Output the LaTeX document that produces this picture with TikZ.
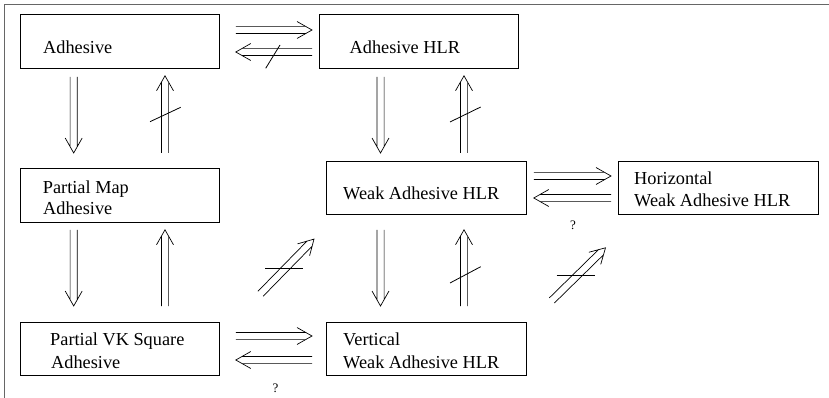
\documentclass[tikz,border=0pt]{standalone}
\usepackage{fontspec}
\setmainfont{Liberation Serif}
\usetikzlibrary{calc}
\begin{document}
\begin{tikzpicture}[x=1pt,y=-1pt,
  box/.style={draw=black, line width=0.8pt, minimum width=199pt, minimum height=54pt, anchor=north west, inner sep=0pt},
  lbl/.style={anchor=base west, inner sep=0pt, font=\fontsize{18.3}{22}\selectfont},
  qlbl/.style={inner sep=0pt, font=\fontsize{13}{15}\selectfont},
  dbl/.style 2 args={line width=0.7pt, line join=miter, to path={
    ($(\tikztostart)!#1!(\tikztotarget)$) coordinate (ds)
    ($(\tikztotarget)!#2!(\tikztostart)$) coordinate (dt)
    ($(dt)!6pt!(ds)$) coordinate (dm)
    ($(ds)!3.6pt!90:(dt)$) -- ($(dm)!3.6pt!-90:(ds)$)
    ($(ds)!3.6pt!-90:(dt)$) -- ($(dm)!3.6pt!90:(ds)$)
    ($(dt)!17.2pt!29.5:(ds)$) -- (dt) -- ($(dt)!17.2pt!-29.5:(ds)$)
  }},
  slash/.style={line width=0.8pt},
  frame/.style={draw=black!60, line width=1.5pt}]
\useasboundingbox (0,0) rectangle (829,398);
\draw[frame] (4.5,398) -- (4.5,4.5) -- (829,4.5);
% boxes
\node[box] (A) at (20,14) {};
\node[box] (AH) at (319,14) {};
\node[box] (PM) at (20,168) {};
\node[box, minimum width=200pt, minimum height=53pt] (WAH) at (326,161) {};
\node[box, minimum width=200pt, minimum height=53pt] (H) at (618,161) {};
\node[box, minimum height=53pt] (PVK) at (20,322) {};
\node[box, minimum width=200pt, minimum height=53pt] (V) at (326,322) {};
% texts
\node[lbl] (tA) at (43,53.3) {Adhesive};
\node[lbl] (tAH) at (349.5,53.3) {Adhesive HLR};
\node[lbl] (tPM1) at (42.7,193.3) {Partial Map};
\node[lbl] (tPM2) at (43,214) {Adhesive};
\node[lbl] (tWAH) at (343,199.5) {Weak Adhesive HLR};
\node[lbl] (tH1) at (634,185) {Horizontal};
\node[lbl] (tH2) at (634,206.7) {Weak Adhesive HLR};
\node[lbl] (tPVK1) at (50,345) {Partial VK Square};
\node[lbl] (tPVK2) at (51,368) {Adhesive};
\node[lbl] (tV1) at (343,345) {Vertical};
\node[lbl] (tV2) at (343,368) {Weak Adhesive HLR};
\node[qlbl] (q1) at (573,225) {?};
\node[qlbl] (q2) at (275.5,388) {?};
% columns and rows
\coordinate (c1) at (73.7,0);
\coordinate (c2) at (165,0);
\coordinate (c3) at (380.5,0);
\coordinate (c4) at (464,0);
\coordinate (r1) at (0,30);
\coordinate (r2) at (0,52);
\coordinate (r3) at (0,176);
\coordinate (r4) at (0,198);
\coordinate (r5) at (0,336);
\coordinate (r6) at (0,360);
% top horizontal
\draw[dbl={16pt}{7pt}] (A.east |- r1) to (AH.west |- r1);
\draw[dbl={7pt}{16pt}] (AH.west |- r2) to (A.east |- r2);
\draw[slash] (265.7,68.3) -- (280,45);
% middle horizontal
\draw[dbl={7pt}{7pt}] (WAH.east |- r3) to (H.west |- r3);
\draw[dbl={7pt}{7pt}] (H.west |- r4) to (WAH.east |- r4);
% bottom horizontal
\draw[dbl={16pt}{14pt}] (PVK.east |- r5) to (V.west |- r5);
\draw[dbl={14pt}{16pt}] (V.west |- r6) to (PVK.east |- r6);
% left column
\draw[dbl={8pt}{15pt}] (A.south -| c1) to (PM.north -| c1);
\draw[dbl={15pt}{7pt}] (PM.north -| c2) to (A.south -| c2);
\draw[slash] (150,121.7) -- (180.7,107.3);
\draw[dbl={7pt}{16pt}] (PM.south -| c1) to (PVK.north -| c1);
\draw[dbl={16pt}{7pt}] (PVK.north -| c2) to (PM.south -| c2);
% middle column
\draw[dbl={8pt}{8pt}] (AH.south -| c3) to (WAH.north -| c3);
\draw[dbl={8pt}{7pt}] (WAH.north -| c4) to (AH.south -| c4);
\draw[slash] (450,122) -- (480.7,107);
\draw[dbl={15pt}{16pt}] (WAH.south -| c3) to (V.north -| c3);
\draw[dbl={16pt}{15pt}] (V.north -| c4) to (WAH.south -| c4);
\draw[slash] (450,283) -- (480.7,266.7);
% diagonals
\draw[dbl={0pt}{0pt}] ($(PVK.north east)+(40.7,-28.2)$) to ($(WAH.south west)+(-12,24.3)$);
\draw[slash] (265,268.3) -- (303.3,268.3);
\draw[dbl={0pt}{0pt}] ($(V.north east)+(25,-21.5)$) to ($(H.south west)+(-12.5,33)$);
\draw[slash] (556.7,275.5) -- (595,275.5);
\end{tikzpicture}
\end{document}
